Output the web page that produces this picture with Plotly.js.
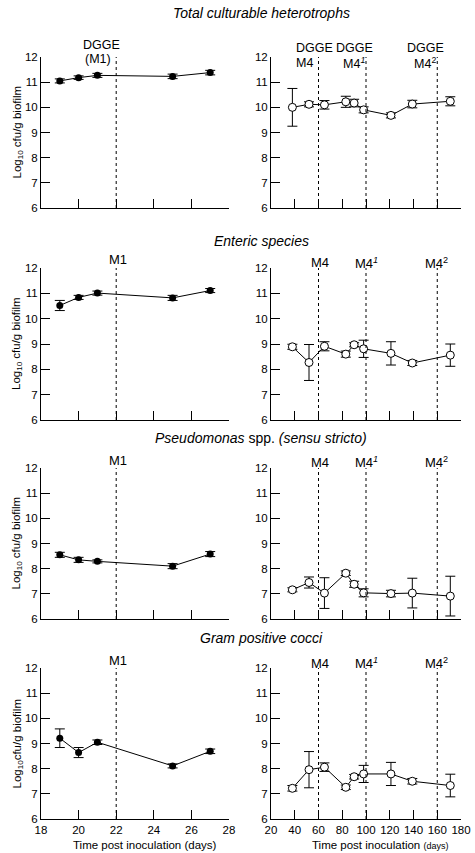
<!DOCTYPE html>
<html>
<head>
<meta charset="utf-8">
<script src="https://cdn.plot.ly/plotly-3.0.1.min.js"></script>
<style>html,body{margin:0;padding:0;background:#fff}#chart{width:475px;height:853px}</style>
</head>
<body>
<div id="chart"></div>
<script>
// ---- data ----
const daysEarly = [19, 20, 21, 25, 27];
const daysLate = [38, 52, 65, 83, 90, 98, 121, 139, 171];

const totalEarly = [11.05, 11.18, 11.27, 11.23, 11.38];
const totalEarlyErr = [0.08, 0.07, 0.08, 0.09, 0.09];
const totalLate = [10.0, 10.12, 10.1, 10.22, 10.17, 9.9, 9.68, 10.13, 10.24];
const totalLateErr = [0.75, 0.1, 0.17, 0.22, 0.15, 0.12, 0.1, 0.15, 0.18];

const entericEarly = [10.52, 10.84, 11.01, 10.82, 11.11];
const entericEarlyErr = [0.2, 0.08, 0.08, 0.1, 0.08];
const entericLate = [8.89, 8.27, 8.91, 8.6, 8.97, 8.81, 8.63, 8.25, 8.56];
const entericLateErr = [0.1, 0.71, 0.18, 0.12, 0.08, 0.34, 0.46, 0.1, 0.44];

const pseudoEarly = [8.55, 8.35, 8.29, 8.1, 8.58];
const pseudoEarlyErr = [0.1, 0.1, 0.06, 0.1, 0.1];
const pseudoLate = [7.16, 7.45, 7.03, 7.82, 7.38, 7.04, 7.01, 7.03, 6.91];
const pseudoLateErr = [0.08, 0.22, 0.61, 0.09, 0.12, 0.16, 0.13, 0.59, 0.79];

const gramEarly = [9.21, 8.64, 9.05, 8.11, 8.69];
const gramEarlyErr = [0.37, 0.2, 0.09, 0.08, 0.09];
const gramLate = [7.22, 7.96, 8.06, 7.26, 7.68, 7.79, 7.79, 7.5, 7.33];
const gramLateErr = [0.11, 0.72, 0.17, 0.09, 0.09, 0.34, 0.46, 0.11, 0.45];

const panelTitles = [
  "<i>Total culturable heterotrophs</i>",
  "<i>Enteric species</i>",
  "<i>Pseudomonas</i> spp. <i>(sensu stricto)</i>",
  "<i>Gram positive cocci</i>"
];
const earlyLines = [22];
const lateLines = [60, 100, 160];
const yTickVals = [6, 7, 8, 9, 10, 11, 12];
const earlyTickVals = [18, 20, 22, 24, 26, 28];
const lateTickVals = [20, 40, 60, 80, 100, 120, 140, 160, 180];

// ---- layout geometry (pixels) ----
const W = 475, H = 853;
const leftDom = [41 / W, 229 / W];
const rightDom = [271 / W, 461 / W];
const rowPx = [[57, 208], [268, 420], [468, 619], [668, 819]];
const py = p => 1 - p / H;
const FONT = "Liberation Sans, Arial, sans-serif";

const early = [
  [totalEarly, totalEarlyErr], [entericEarly, entericEarlyErr],
  [pseudoEarly, pseudoEarlyErr], [gramEarly, gramEarlyErr]
];
const late = [
  [totalLate, totalLateErr], [entericLate, entericLateErr],
  [pseudoLate, pseudoLateErr], [gramLate, gramLateErr]
];

const traces = [];
const layout = {
  width: W, height: H,
  margin: {l: 0, r: 0, t: 0, b: 0},
  paper_bgcolor: "#fff", plot_bgcolor: "#fff",
  showlegend: false,
  font: {family: FONT, size: 11, color: "#000"},
  shapes: [], annotations: []
};

function axisX(dom, range, tickvals, showLabels, anchor) {
  return {
    domain: dom, range: range, anchor: anchor,
    showline: true, linecolor: "#000", linewidth: 1,
    ticks: "inside", ticklen: 9, tickwidth: 1, tickcolor: "#000",
    tickvals: tickvals, showticklabels: showLabels,
    tickfont: {family: FONT, size: 11.5, color: "#000"},
    showgrid: false, zeroline: false, fixedrange: true
  };
}
function axisY(dom, anchor) {
  return {
    domain: dom, range: [6, 12], anchor: anchor,
    showline: true, linecolor: "#000", linewidth: 1,
    ticks: "inside", ticklen: 9, tickwidth: 1, tickcolor: "#000",
    tickvals: yTickVals, ticktext: yTickVals.map(String),
    tickfont: {family: FONT, size: 11.5, color: "#000"},
    showgrid: false, zeroline: false, fixedrange: true
  };
}

for (let r = 0; r < 4; r++) {
  const yd = [py(rowPx[r][1]), py(rowPx[r][0])];
  const iL = 2 * r + 1, iR = 2 * r + 2;
  const sL = iL === 1 ? "" : String(iL), sR = String(iR);
  const last = r === 3;
  layout["xaxis" + sL] = axisX(leftDom, [18, 28], earlyTickVals, last, "y" + sL);
  layout["yaxis" + sL] = axisY(yd, "x" + sL);
  layout["xaxis" + sR] = axisX(rightDom, [20, 180], lateTickVals, last, "y" + sR);
  layout["yaxis" + sR] = axisY(yd, "x" + sR);

  traces.push({
    x: daysEarly, y: early[r][0], xaxis: "x" + sL, yaxis: "y" + sL,
    type: "scatter", mode: "lines+markers",
    line: {color: "#000", width: 1},
    marker: {symbol: "circle", size: 7, color: "#000"},
    error_y: {type: "data", array: early[r][1], visible: true, color: "#000", thickness: 1, width: 5},
    cliponaxis: false
  });
  traces.push({
    x: daysLate, y: late[r][0], xaxis: "x" + sR, yaxis: "y" + sR,
    type: "scatter", mode: "lines+markers",
    line: {color: "#000", width: 1},
    marker: {symbol: "circle", size: 8, color: "#fff", line: {color: "#000", width: 1}},
    error_y: {type: "data", array: late[r][1], visible: true, color: "#000", thickness: 1, width: 5},
    cliponaxis: false
  });

  earlyLines.forEach(v => layout.shapes.push({
    type: "line", xref: "x" + sL, yref: "y" + sL + " domain", x0: v, x1: v, y0: 0, y1: 1,
    line: {color: "#000", width: 1, dash: "dot"}
  }));
  lateLines.forEach(v => layout.shapes.push({
    type: "line", xref: "x" + sR, yref: "y" + sR + " domain", x0: v, x1: v, y0: 0, y1: 1,
    line: {color: "#000", width: 1, dash: "dot"}
  }));

  // y-axis title
  const ytxt = last ? "Log<sub>10</sub>cfu/g biofilm" : "Log<sub>10</sub> cfu/g biofilm";
  layout.annotations.push({
    text: ytxt, xref: "paper", yref: "paper", x: 17 / W, y: (yd[0] + yd[1]) / 2,
    textangle: -90, showarrow: false, xanchor: "center", yanchor: "middle",
    font: {family: FONT, size: 11.5, color: "#000"}
  });
}

// panel titles
const titleY = [13, 241, 438, 638];
panelTitles.forEach((t, i) => layout.annotations.push({
  text: t, xref: "paper", yref: "paper", x: 261 / W, y: py(titleY[i]),
  showarrow: false, xanchor: "center", yanchor: "middle",
  font: {family: FONT, size: 14, color: "#000"}
}));

// marker labels
function lab(text, xref, x, ypx, xanchor, size) {
  layout.annotations.push({
    text: text, xref: xref, yref: "paper", x: x, y: py(ypx),
    showarrow: false, xanchor: xanchor || "center", yanchor: "middle",
    font: {family: FONT, size: size || 13, color: "#000"}
  });
}
// row 1
lab("DGGE", "x", 21.2, 45, "center", 12.5);
lab("(M1)", "x", 21.05, 59, "center", 12.5);
lab("DGGE", "x2", 39.4, 48, "left", 12.5);
lab("M4", "x2", 39.4, 63, "left", 12.5);
lab("DGGE", "x2", 89.9, 48, "center", 12.5);
lab("M4<sup><i>1</i></sup>", "x2", 89.5, 63, "center", 12.5);
lab("DGGE", "x2", 150.1, 48, "center", 12.5);
lab("M4<sup>2</sup>", "x2", 149.5, 63, "center", 12.5);
// rows 2-4
const lblY = [[260, 263], [460, 462], [660, 663]];
for (let r = 1; r < 4; r++) {
  const sL = String(2 * r + 1), sR = String(2 * r + 2);
  lab("M1", "x" + sL, 22.1, lblY[r - 1][0]);
  lab("M4", "x" + sR, 61.3, lblY[r - 1][1]);
  lab("M4<sup><i>1</i></sup>", "x" + sR, 100.5, lblY[r - 1][1]);
  lab("M4<sup>2</sup>", "x" + sR, 159.5, lblY[r - 1][1]);
}

// x-axis titles
lab("Time post inoculation (days)", "paper", 145 / W, 845, "center", 11.5);
lab("Time post inoculation <span style='font-size:9px'>(days)</span>", "paper", 380 / W, 845, "center", 11.5);

Plotly.newPlot("chart", traces, layout, {staticPlot: true, displayModeBar: false});
</script>
</body>
</html>
